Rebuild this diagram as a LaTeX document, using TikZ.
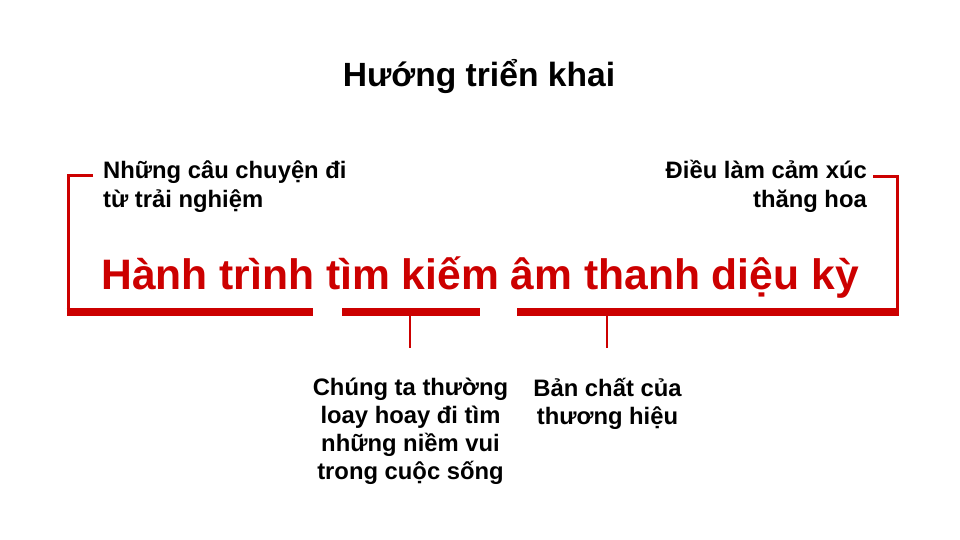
\documentclass[tikz,border=0pt]{standalone}
\usepackage{fontspec}
\setmainfont{Liberation Sans}
\definecolor{brandred}{HTML}{CC0000}
\tikzset{
  barline/.style={brandred, line width=7.5pt},
  sideline/.style={brandred, line width=3pt},
  tickline/.style={brandred, line width=2.5pt},
  note/.style={font=\bfseries\fontsize{23.8}{28.8}\selectfont, inner sep=0pt},
  lownote/.style={font=\bfseries\fontsize{23.8}{27.8}\selectfont, inner sep=0pt, align=center, anchor=base},
}
\begin{document}
\begin{tikzpicture}[x=1pt,y=-1pt]
	\useasboundingbox (0,0) rectangle (960,540);

	\coordinate (LTOP) at (93,176);
	\coordinate (LCORNER) at (68,176);
	\coordinate (LBOTTOM) at (68,312);
	\coordinate (LEND) at (313,312);
	\coordinate (MSTART) at (342,312);
	\coordinate (MEND) at (480,312);
	\coordinate (MTICK) at (410,312);
	\coordinate (MTICKEND) at (410,348);
	\coordinate (RSTART) at (517,312);
	\coordinate (RBOTTOM) at (897,312);
	\coordinate (RTICK) at (607,312);
	\coordinate (RTICKEND) at (607,348);
	\coordinate (RCORNER) at (897,177);
	\coordinate (RTOP) at (873,177);

	\node[font=\bfseries\fontsize{33.6}{40}\selectfont, inner sep=0pt, anchor=base] (title) at (479,87) {Hướng triển khai};
	\node[font=\bfseries\fontsize{42.6}{50}\selectfont, text=brandred, inner sep=0pt, anchor=base] (slogan) at (480,289) {Hành trình tìm kiếm âm thanh diệu kỳ};

	\node[note, align=left, anchor=base west] (story) at (103,207) {Những câu chuyện đi\\từ trải nghiệm};
	\node[note, align=right, anchor=base east] (emotion) at (867,207) {Điều làm cảm xúc\\thăng hoa};
	\node[lownote] (search) at (410.5,479) {Chúng ta thường\\loay hoay đi tìm\\những niềm vui\\trong cuộc sống};
	\node[lownote] (brand) at (607.5,424) {Bản chất của\\thương hiệu};

	% left bracket
	\draw[sideline] (LTOP) -- (LCORNER) -- (LBOTTOM);
	\draw[barline] ([xshift=-1.5pt]LBOTTOM) -- (LEND);
	% middle bar
	\draw[barline] (MSTART) -- (MEND);
	\draw[tickline] (MTICK) -- (MTICKEND);
	% right bracket
	\draw[barline] (RSTART) -- ([xshift=1.5pt]RBOTTOM);
	\draw[tickline] (RTICK) -- (RTICKEND);
	\draw[sideline] (RBOTTOM) -- (RCORNER) -- (RTOP);
\end{tikzpicture}
\end{document}
